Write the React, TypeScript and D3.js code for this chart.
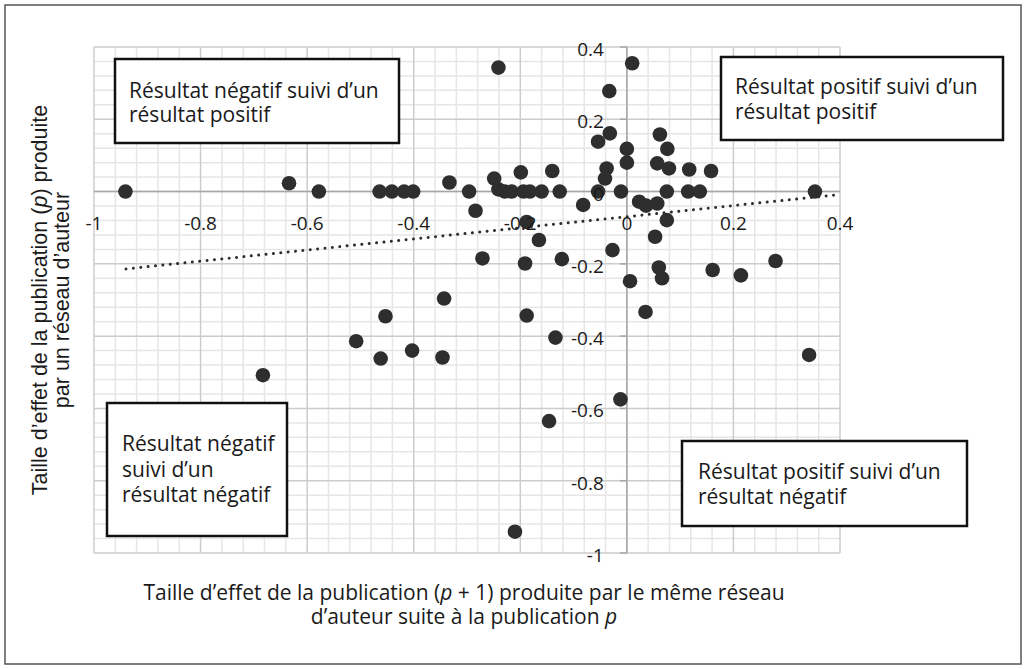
import React from "react";
import * as d3 from "d3";

const xValues = [
  -0.941, -0.578, -0.464, -0.441, -0.418, -0.401, -0.296, -0.241, -0.229, -0.216,
  -0.194, -0.182, -0.160, -0.126, -0.054, -0.011, 0.075, 0.115, 0.137, 0.353,
  -0.634, -0.333, -0.249, -0.199, -0.140, -0.284, -0.241, -0.082, -0.054, -0.033,
  -0.032, -0.038, -0.041, 0.000, 0.000, 0.010, 0.062, 0.076, 0.057, 0.079,
  0.117, 0.158, 0.023, 0.036, 0.057, 0.075, 0.053, -0.027, 0.060, 0.066,
  0.006, 0.035, 0.161, 0.214, 0.279, 0.342, -0.012, -0.188, -0.165, -0.271,
  -0.191, -0.122, -0.343, -0.453, -0.188, -0.134, -0.403, -0.346, -0.462, -0.683,
  -0.508, -0.146, -0.210,
];
const yValues = [
  0, 0, 0, 0, 0, 0, 0, 0.006, 0, 0,
  0, 0, 0, 0, 0, 0, 0, 0, 0, 0,
  0.023, 0.025, 0.036, 0.053, 0.057, -0.053, 0.343, -0.037, 0.138, 0.278,
  0.161, 0.064, 0.036, 0.118, 0.080, 0.355, 0.158, 0.118, 0.078, 0.064,
  0.061, 0.057, -0.028, -0.039, -0.033, -0.079, -0.125, -0.162, -0.210, -0.240,
  -0.248, -0.333, -0.217, -0.232, -0.192, -0.452, -0.575, -0.084, -0.134, -0.185,
  -0.199, -0.187, -0.296, -0.345, -0.343, -0.404, -0.440, -0.459, -0.462, -0.508,
  -0.414, -0.635, -0.941,
];

const trendX = [-0.94, 0.4];
const trendY = [-0.214, -0.008];

const majorTicks = [-1, -0.8, -0.6, -0.4, -0.2, 0, 0.2, 0.4];
const tickLabels = ["-1", "-0.8", "-0.6", "-0.4", "-0.2", "0", "0.2", "0.4"];
const minorStep = 0.04;

const xTitleLines = [
  "Taille d\u2019effet de la publication (|p| + 1) produite par le même réseau",
  "d\u2019auteur suite à la publication |p|",
];
const yTitleLines = [
  "Taille d\u2019effet de la publication (|p|) produite",
  "par un réseau d\u2019auteur",
];

const boxes = [
  { lines: ["Résultat négatif suivi d\u2019un", "résultat positif"] },
  { lines: ["Résultat positif suivi d\u2019un", "résultat positif"] },
  { lines: ["Résultat négatif", "suivi d\u2019un", "résultat négatif"] },
  { lines: ["Résultat positif suivi d\u2019un", "résultat négatif"] },
];
const boxGeom = [
  { x: 115, y: 59, w: 284, h: 84, tx: 129, ty: 98, lh: 24 },
  { x: 721, y: 57, w: 282, h: 83, tx: 735, ty: 94, lh: 25 },
  { x: 107, y: 403, w: 180, h: 133, tx: 122, ty: 451, lh: 25.5 },
  { x: 682, y: 441, w: 285, h: 85, tx: 698, ty: 479, lh: 25 },
];

function Rich({ text }: { text: string }) {
  const parts = text.split("|");
  return (
    <>
      {parts.map((p, i) =>
        i % 2 === 1 ? (
          <tspan key={i} fontStyle="italic">{p}</tspan>
        ) : (
          <tspan key={i}>{p}</tspan>
        )
      )}
    </>
  );
}

export default function App() {
  const W = 1028;
  const H = 669;
  const x = d3.scaleLinear().domain([-1, 0.4]).range([94, 840]);
  const y = d3.scaleLinear().domain([-1, 0.4]).range([553, 47]);

  const minor: number[] = d3.range(0, 36).map((i) => -1 + i * minorStep);
  const isMajor = (v: number) => Math.abs(v * 5 - Math.round(v * 5)) < 1e-6;

  const points = xValues.map((v, i) => [v, yValues[i]] as [number, number]);
  const trendPath = d3
    .line<number>()
    .x((d) => x(trendX[d]))
    .y((d) => y(trendY[d]))([0, 1]);

  const tickFont = "'Open Sans', 'DejaVu Sans', sans-serif";

  return (
    <svg
      width={W}
      height={H}
      viewBox={`0 0 ${W} ${H}`}
      style={{ position: "absolute", left: 0, top: 0, background: "#fff" }}
    >
      <rect x={0} y={0} width={W} height={H} fill="#fff" />
      <rect x={5} y={5} width={1016} height={659} fill="none" stroke="#555" strokeWidth={1.5} />

      {/* minor grid */}
      {minor.filter((v) => !isMajor(v)).map((v, i) => (
        <g key={"m" + i}>
          <line x1={x(v)} x2={x(v)} y1={y(0.4)} y2={y(-1)} stroke="#e6e6e6" strokeWidth={1.5} />
          <line x1={x(-1)} x2={x(0.4)} y1={y(v)} y2={y(v)} stroke="#e6e6e6" strokeWidth={1.5} />
        </g>
      ))}
      {/* major grid */}
      {majorTicks.map((v, i) => (
        <g key={"M" + i}>
          <line x1={x(v)} x2={x(v)} y1={y(0.4)} y2={y(-1)} stroke="#cccccc" strokeWidth={1.5} />
          <line x1={x(-1)} x2={x(0.4)} y1={y(v)} y2={y(v)} stroke="#cccccc" strokeWidth={1.5} />
        </g>
      ))}
      {/* axes */}
      <line x1={x(-1)} x2={x(0.4)} y1={y(0)} y2={y(0)} stroke="#a6a6a6" strokeWidth={1.5} />
      <line x1={x(0)} x2={x(0)} y1={y(0.4)} y2={y(-1)} stroke="#a6a6a6" strokeWidth={1.5} />
      {majorTicks.map((v, i) => (
        <line key={"t" + i} x1={x(0) - 7} x2={x(0)} y1={y(v)} y2={y(v)} stroke="#a6a6a6" strokeWidth={1.5} />
      ))}

      {/* points */}
      {points.map((p, i) => (
        <circle key={"p" + i} cx={x(p[0])} cy={y(p[1])} r={7.3} fill="#2e2e2e" />
      ))}

      {/* trendline */}
      <path
        d={trendPath || ""}
        fill="none"
        stroke="#2e2e2e"
        strokeWidth={3}
        strokeLinecap="round"
        strokeDasharray="0.01 7.4"
      />

      {/* tick labels */}
      {majorTicks.map((v, i) => (
        <text
          key={"xl" + i}
          x={x(v)}
          y={y(0) + 38}
          textAnchor="middle"
          fontFamily={tickFont}
          fontSize={19}
          fill="#1a1a1a"
        >
          {tickLabels[i]}
        </text>
      ))}
      {majorTicks.map((v, i) => (
        <text
          key={"yl" + i}
          x={x(0) - 23}
          y={y(v) + 9}
          textAnchor="end"
          fontFamily={tickFont}
          fontSize={19}
          fill="#1a1a1a"
        >
          {tickLabels[i]}
        </text>
      ))}

      {/* boxes */}
      {boxes.map((b, i) => {
        const g = boxGeom[i];
        return (
          <g key={"b" + i}>
            <rect x={g.x} y={g.y} width={g.w} height={g.h} fill="#fff" stroke="#111" strokeWidth={2.5} />
            {b.lines.map((l, j) => (
              <text
                key={j}
                x={g.tx}
                y={g.ty + j * g.lh}
                fontFamily={tickFont}
                fontSize={21}
                fill="#1a1a1a"
              >
                {l}
              </text>
            ))}
          </g>
        );
      })}

      {/* x title */}
      {xTitleLines.map((l, i) => (
        <text
          key={"xt" + i}
          x={464}
          y={600 + i * 24}
          textAnchor="middle"
          fontFamily={tickFont}
          fontSize={21}
          fill="#1a1a1a"
        >
          <Rich text={l} />
        </text>
      ))}

      {/* y title */}
      {yTitleLines.map((l, i) => (
        <text
          key={"yt" + i}
          transform={`translate(${47 + i * 22},300) rotate(-90)`}
          textAnchor="middle"
          fontFamily="'Liberation Sans', Arial, sans-serif"
          fontSize={21.5}
          fill="#1a1a1a"
        >
          <Rich text={l} />
        </text>
      ))}
    </svg>
  );
}
